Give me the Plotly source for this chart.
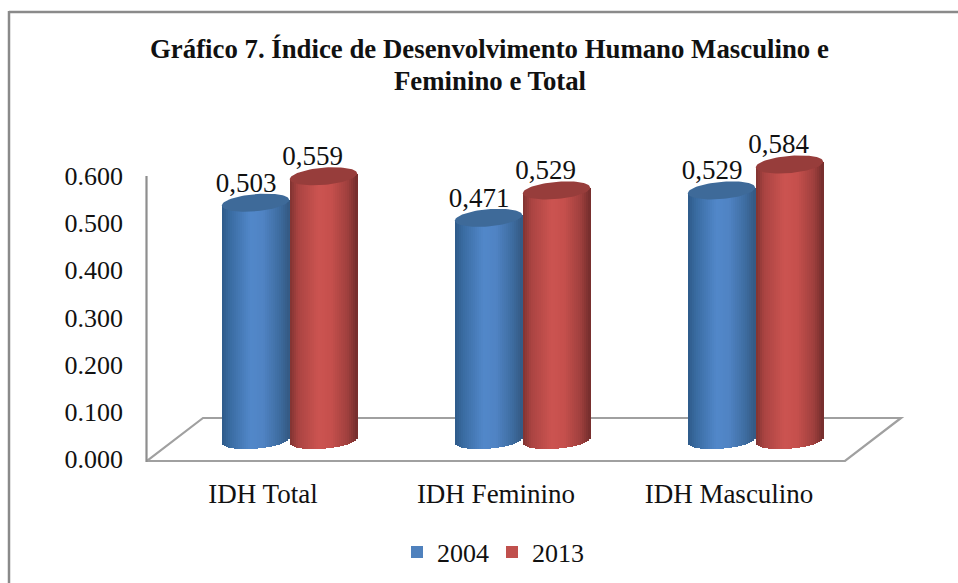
import numpy as np
import plotly.graph_objects as go

categories = ["IDH Total", "IDH Feminino", "IDH Masculino"]
series_names = ["2004", "2013"]
values_2004 = [0.503, 0.471, 0.529]
values_2013 = [0.559, 0.529, 0.584]
y_ticks = [0.0, 0.1, 0.2, 0.3, 0.4, 0.5, 0.6]
y_tick_labels = ["0.000", "0.100", "0.200", "0.300", "0.400", "0.500", "0.600"]
title_lines = ["Gráfico 7. Índice de Desenvolvimento Humano Masculino e", "Feminino e Total"]

W, H = 958, 583
# plot area in pixels
L, R, T, B = 140, 905, 130, 468
PX_X = 233.0          # pixels per category
PX_Y = 472.0          # pixels per 1.0 of value
X0_PX, Y0_PX = 263.0, 459.0  # pixel of category 0, value 0


def dx(px):
    return (px - X0_PX) / PX_X


def dy(px):
    return (Y0_PX - px) / PX_Y


def paper_x(px):
    return px / W


def paper_y(px):
    return 1 - px / H


depth_y = 0.040       # value-units lift of the bar base (3D depth)
half = 33.7 / PX_X    # half width of a cylinder
cap_b = 8.6 / PX_Y
cap_k = 2.8 / PX_Y
centers = {"2004": -7.5 / PX_X, "2013": 60.5 / PX_X}
stops = {
    "2004": [(0.0, (46, 90, 138)), (0.12, (58, 108, 162)), (0.42, (82, 136, 202)), (0.62, (80, 132, 196)), (0.86, (62, 108, 160)), (1.0, (52, 90, 132))],
    "2013": [(0.0, (128, 52, 50)), (0.12, (170, 68, 66)), (0.42, (204, 84, 81)), (0.62, (198, 80, 77)), (0.86, (160, 64, 62)), (1.0, (116, 46, 45))],
}
cap_colors = {"2004": "#3E6A99", "2013": "#973D3B"}
flat_colors = {"2004": "#4F81BD", "2013": "#C0504D"}
all_values = {"2004": values_2004, "2013": values_2013}
label_dx = {"2004": -9.5 / PX_X, "2013": -11 / PX_X}
N = 34


def color_at(name, f):
    s = stops[name]
    fs = [a for a, _ in s]
    return "rgb(%d,%d,%d)" % tuple(np.interp(f, fs, [c[i] for _, c in s]) for i in range(3))


fig = go.Figure()
xs = list(range(len(categories)))

for name in series_names:
    vals = np.array(all_values[name])
    c = centers[name]
    # main bar carries the legend entry and the value
    fig.add_trace(go.Bar(x=xs, y=vals, base=depth_y, width=half * 1.6, offset=c - half * 0.8,
                         name=name, marker=dict(color=flat_colors[name], line_width=0),
                         hoverinfo="skip"))
    # thin strips produce the cylinder's horizontal shading and curved foot
    edges = np.linspace(-1, 1, N + 1)
    for i in range(N):
        u = (edges[i] + edges[i + 1]) / 2
        foot = depth_y + cap_k * u - cap_b * np.sqrt(1 - u * u)
        top = vals + depth_y + cap_k * u
        fig.add_trace(go.Bar(x=xs, y=top - foot, base=foot,
                             width=half * 2 / N * 1.25,
                             offset=c + edges[i] * half,
                             marker=dict(color=color_at(name, (u + 1) / 2), line_width=0),
                             showlegend=False, hoverinfo="skip"))

t = np.linspace(0, 2 * np.pi, 80)
for name in series_names:
    vals = all_values[name]
    c = centers[name]
    for k, v in enumerate(vals):
        fig.add_trace(go.Scatter(x=k + c + half * np.cos(t),
                                 y=v + depth_y + cap_b * np.sin(t) + cap_k * np.cos(t),
                                 mode="lines", fill="toself", fillcolor=cap_colors[name],
                                 line=dict(width=0, color=cap_colors[name]),
                                 showlegend=False, hoverinfo="skip"))

for name in series_names:
    vals = np.array(all_values[name])
    fig.add_trace(go.Scatter(x=np.array(xs) + centers[name] + label_dx[name], y=vals + depth_y + 0.009,
                             mode="text", text=[("%.3f" % v).replace(".", ",") for v in vals],
                             textposition="top center",
                             textfont=dict(family="Liberation Serif", size=27, color="#111111"),
                             showlegend=False, hoverinfo="skip"))

gray = "#8E8E8E"
floor = [(147, 461), (845, 461), (901, 418), (203, 418), (147, 461)]
path = "M " + " L ".join(f"{dx(a):.4f},{dy(b):.4f}" for a, b in floor)
shapes = [
    dict(type="path", path=path, xref="x", yref="y", layer="below", line=dict(color="#A0A0A0", width=2.2)),
    dict(type="line", xref="x", yref="y", layer="below", x0=dx(146.5), x1=dx(146.5), y0=dy(176), y1=dy(462),
         line=dict(color=gray, width=2.2)),
    dict(type="line", xref="paper", yref="paper", x0=paper_x(9), x1=paper_x(W), y0=paper_y(12), y1=paper_y(12),
         line=dict(color="#8A8A8A", width=2.5)),
    dict(type="line", xref="paper", yref="paper", x0=paper_x(9), x1=paper_x(9), y0=paper_y(11), y1=paper_y(H),
         line=dict(color="#8A8A8A", width=2.5)),
]

annotations = [
    dict(text=f"<b>{title_lines[0]}</b>", xref="paper", yref="paper", x=paper_x(489), y=paper_y(49),
         showarrow=False, xanchor="center", yanchor="middle",
         font=dict(family="Liberation Serif", size=26.8, color="#111111")),
    dict(text=f"<b>{title_lines[1]}</b>", xref="paper", yref="paper", x=paper_x(490), y=paper_y(81),
         showarrow=False, xanchor="center", yanchor="middle",
         font=dict(family="Liberation Serif", size=26.8, color="#111111")),
]

fig.update_layout(
    width=W, height=H,
    margin=dict(l=0, r=0, t=0, b=0, pad=0),
    paper_bgcolor="white", plot_bgcolor="rgba(0,0,0,0)",
    barmode="overlay", bargap=0,
    showlegend=True,
    legend=dict(orientation="h", x=paper_x(492), xanchor="center", y=paper_y(552), yanchor="middle",
                font=dict(family="Liberation Serif", size=26, color="#111111"),
                itemwidth=30, entrywidth=50, entrywidthmode="pixels",
                bgcolor="rgba(0,0,0,0)", traceorder="normal"),
    shapes=shapes, annotations=annotations,
    xaxis=dict(domain=[L / W, R / W], range=[dx(L), dx(R)], tickvals=xs, ticktext=categories,
               showgrid=False, zeroline=False, showline=False, ticks="", ticklabelstandoff=7,
               automargin=False, tickfont=dict(family="Liberation Serif", size=27, color="#111111")),
    yaxis=dict(domain=[1 - B / H, 1 - T / H], range=[dy(B), dy(T)], tickvals=y_ticks, ticktext=y_tick_labels,
               showgrid=False, zeroline=False, showline=False, ticks="", ticklabelstandoff=16,
               automargin=False, tickfont=dict(family="Liberation Serif", size=26, color="#111111")),
)

fig.write_html("out.html", post_script="document.body.style.margin='0';",
               config={"displayModeBar": False})
